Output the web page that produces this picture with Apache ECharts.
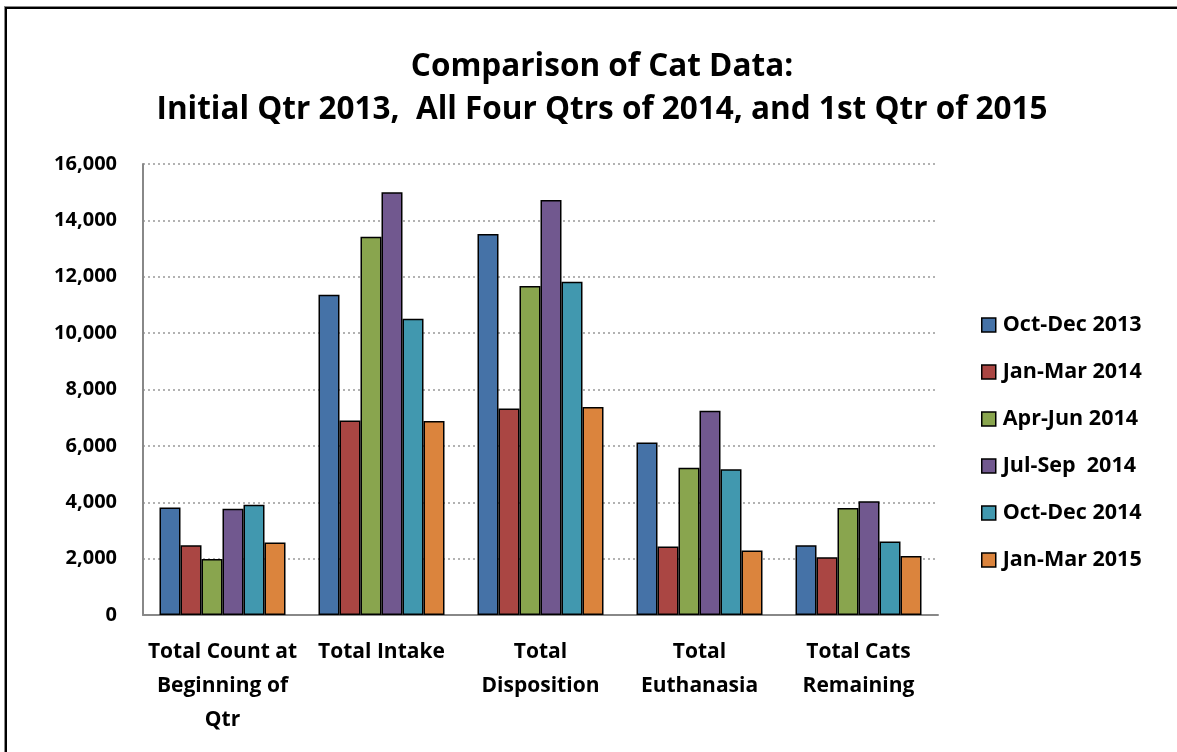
<!DOCTYPE html>
<html>
<head>
<meta charset="utf-8">
<script src="https://cdn.jsdelivr.net/npm/echarts@6/dist/echarts.min.js"></script>
<style>
html,body{margin:0;padding:0;background:#fff;overflow:hidden;}
#frame{position:absolute;left:5px;top:7px;width:1300px;height:900px;border-left:2px solid #000;border-top:2px solid #000;box-shadow:-1px -1px 0 #888;}
#chart{position:absolute;left:0;top:0;width:1177px;height:752px;}
</style>
</head>
<body>
<div id="frame"></div>
<div id="chart"></div>
<script>
const categories = ['Total Count at\nBeginning of\nQtr', 'Total Intake', 'Total\nDisposition', 'Total\nEuthanasia', 'Total Cats\nRemaining'];
const seriesNames = ['Oct-Dec 2013', 'Jan-Mar 2014', 'Apr-Jun 2014', 'Jul-Sep  2014', 'Oct-Dec 2014', 'Jan-Mar 2015'];
const octDec2013 = [3810, 11360, 13515, 6120, 2475];
const janMar2014 = [2475, 6900, 7325, 2430, 2050];
const aprJun2014 = [1990, 13420, 11670, 5220, 3800];
const julSep2014 = [3765, 15000, 14720, 7245, 4035];
const octDec2014 = [3915, 10510, 11820, 5175, 2605];
const janMar2015 = [2570, 6880, 7375, 2285, 2095];
const yTicks = [0, 2000, 4000, 6000, 8000, 10000, 12000, 14000, 16000];
const colors = ['#4572A7', '#AA4643', '#89A54E', '#71588F', '#4198AF', '#DB843D'];

const dataSets = [octDec2013, janMar2014, aprJun2014, julSep2014, octDec2014, janMar2015];
const font = '"Open Sans", Lato, sans-serif';

const chart = echarts.init(document.getElementById('chart'));
chart.setOption({
  backgroundColor: 'transparent',
  animation: false,
  textStyle: { fontFamily: font },
  title: {
    text: 'Comparison of Cat Data:\nInitial Qtr 2013,  All Four Qtrs of 2014, and 1st Qtr of 2015',
    left: 597, top: 41, textAlign: 'center',
    textStyle: { fontFamily: font, fontSize: 31.5, fontWeight: 'bold', color: '#000', lineHeight: 43 }
  },
  legend: {
    orient: 'vertical', left: 976, top: 309,
    itemWidth: 14, itemHeight: 14, itemGap: 25,
    icon: 'rect',
    itemStyle: { borderColor: '#000', borderWidth: 1.5 },
    textStyle: { fontFamily: font, fontSize: 21.5, fontWeight: 'bold', color: '#000', padding: [0,0,0,2] },
    data: seriesNames
  },
  grid: { left: 143, right: 239, top: 164, bottom: 137, containLabel: false },
  xAxis: {
    type: 'category', data: categories,
    axisLine: { lineStyle: { color: '#888', width: 2 } },
    axisTick: { show: false },
    axisLabel: { interval: 0, margin: 20, fontFamily: font, fontSize: 21, fontWeight: 'bold', color: '#000', lineHeight: 34 }
  },
  yAxis: {
    type: 'value', min: 0, max: 16000, interval: 2000,
    axisLine: { show: true, lineStyle: { color: '#888', width: 2 } },
    axisTick: { show: false },
    axisLabel: {
      margin: 26, fontFamily: font, fontSize: 20, fontWeight: 'bold', color: '#000',
      formatter: v => yTicks.includes(v) ? v.toLocaleString('en-US') : ''
    },
    splitLine: { lineStyle: { color: '#999', type: [2, 3], width: 1.5 } }
  },
  series: seriesNames.map((name, i) => ({
    name, type: 'bar', data: dataSets[i],
    barWidth: 21, barGap: '0%',
    itemStyle: { color: colors[i], borderColor: '#000', borderWidth: 1.5 }
  }))
});
</script>
</body>
</html>
